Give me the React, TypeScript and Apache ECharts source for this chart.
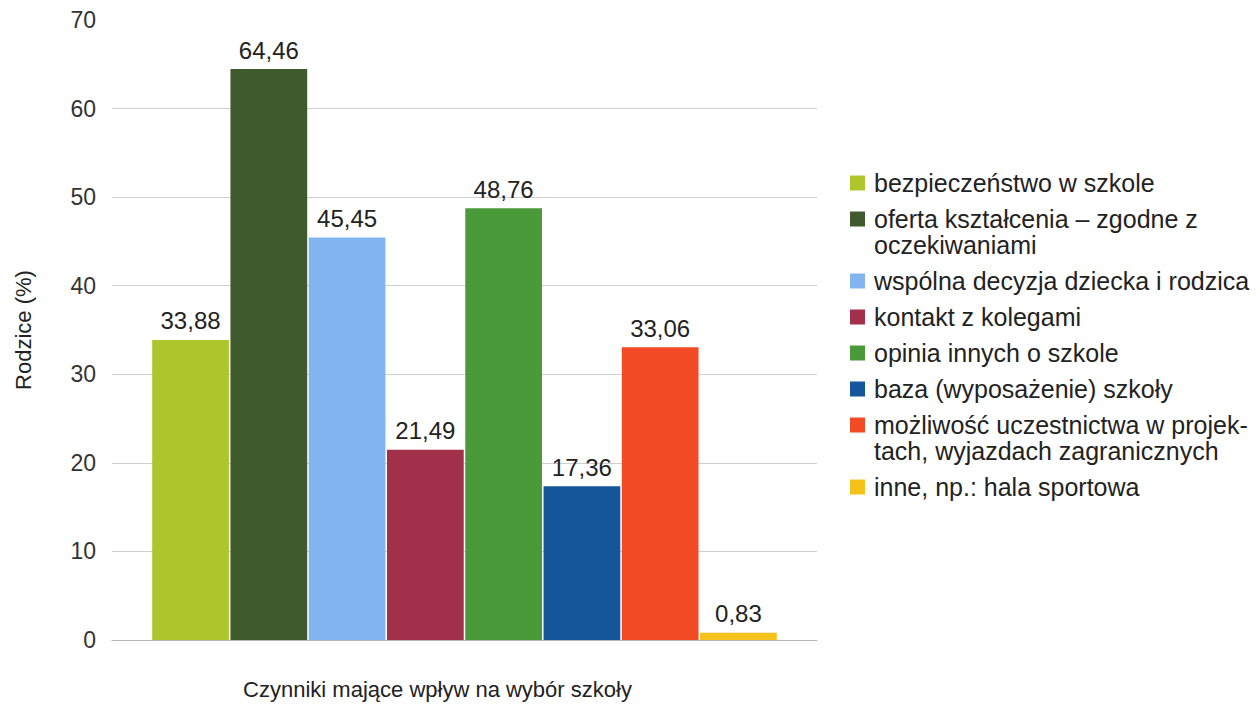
import React, { useEffect, useRef } from "react";
import * as echarts from "echarts";

const FONT = "'Liberation Sans', Arial, sans-serif";

const factorNames: string[] = [
  "bezpieczeństwo w szkole",
  "oferta kształcenia – zgodne z\noczekiwaniami",
  "wspólna decyzja dziecka i rodzica",
  "kontakt z kolegami",
  "opinia innych o szkole",
  "baza (wyposażenie) szkoły",
  "możliwość uczestnictwa w projek-\ntach, wyjazdach zagranicznych",
  "inne, np.: hala sportowa",
];

const parentValues: number[] = [33.88, 64.46, 45.45, 21.49, 48.76, 17.36, 33.06, 0.83];

const barColors: string[] = [
  "#aec62c",
  "#3f5a2c",
  "#82b5f0",
  "#a3304a",
  "#4b9a3a",
  "#15559a",
  "#f24a24",
  "#f5c21c",
];

const yTicks: number[] = [0, 10, 20, 30, 40, 50, 60, 70];

const xAxisTitle = "Czynniki mające wpływ na wybór szkoły";
const yAxisTitle = "Rodzice (%)";

export default function App() {
  const ref = useRef<HTMLDivElement>(null);

  useEffect(() => {
    document.body.style.margin = "0";
    if (!ref.current) return;
    const chart = echarts.init(ref.current, null, { renderer: "svg" });

    // custom legend (icon aligned with first line of multi-line names)
    const legendGraphics: any[] = [];
    let lineCenter = 183;
    factorNames.forEach((name, i) => {
      const lines = name.split("\n").length;
      legendGraphics.push({
        type: "rect",
        shape: { x: 850, y: lineCenter - 7.5, width: 15, height: 15 },
        style: { fill: barColors[i] },
      });
      legendGraphics.push({
        type: "text",
        x: 874,
        y: lineCenter - 13,
        style: {
          text: name,
          fill: "#222",
          font: `25px ${FONT}`,
          lineHeight: 26,
          verticalAlign: "top",
          align: "left",
        },
      });
      lineCenter += 36 + (lines - 1) * 26;
    });

    const gridColors = yTicks.map((t, i) =>
      i === yTicks.length - 1 ? "rgba(0,0,0,0)" : "#cfcfcf"
    );

    chart.setOption({
      animation: false,
      backgroundColor: "#ffffff",
      textStyle: { fontFamily: FONT },
      grid: { left: 112, right: 1260 - 817, top: 20, bottom: 705 - 642 },
      xAxis: {
        type: "category",
        data: [""],
        axisLabel: { show: false },
        axisTick: { show: false },
        axisLine: { show: true, lineStyle: { color: "#b8b8b8", width: 1 } },
        name: xAxisTitle,
        nameLocation: "middle",
        nameGap: 38,
        nameTextStyle: {
          fontSize: 22,
          color: "#222",
          fontFamily: FONT,
          padding: [0, 54, 0, 0],
        },
      },
      yAxis: {
        type: "value",
        min: 0,
        max: 70,
        interval: 10,
        axisLine: { show: false },
        axisTick: { show: false },
        axisLabel: { fontSize: 23, color: "#333", margin: 16, fontFamily: FONT },
        splitLine: { show: true, lineStyle: { color: gridColors, width: 1 } },
        name: yAxisTitle,
        nameLocation: "middle",
        nameGap: 78,
        nameRotate: 90,
        nameTextStyle: { fontSize: 22, color: "#222", fontFamily: FONT },
      },
      series: factorNames.map((name, i) => ({
        type: "bar",
        name,
        data: [parentValues[i]],
        barGap: "2%",
        barCategoryGap: "11.4%",
        itemStyle: { color: barColors[i] },
        label: {
          show: true,
          position: "top",
          distance: 7,
          fontSize: 24,
          color: "#222",
          fontFamily: FONT,
          formatter: (p: any) => Number(p.value).toFixed(2).replace(".", ","),
        },
      })),
      graphic: legendGraphics,
    });

    return () => chart.dispose();
  }, []);

  return <div ref={ref} style={{ width: 1260, height: 705 }} />;
}
